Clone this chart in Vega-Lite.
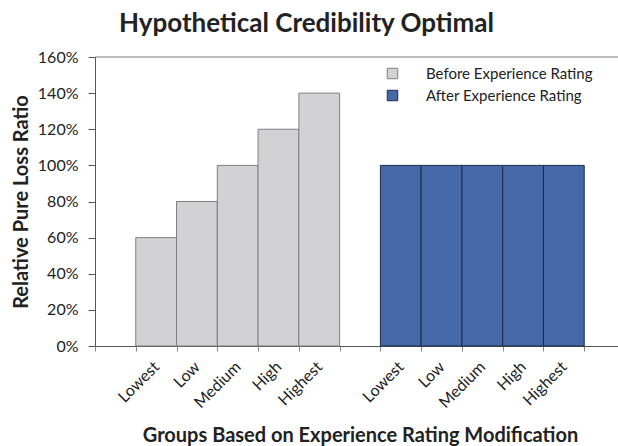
{
  "$schema": "https://vega.github.io/schema/vega-lite/v6.json",
  "autosize": {"type": "none"},
  "padding": {"left": 95, "top": 57, "right": 0, "bottom": 100},
  "width": 523,
  "height": 289,
  "background": "white",
  "config": {
    "font": "Lato",
    "view": {"stroke": null}
  },
  "title": {
    "text": "Hypothetical Credibility Optimal",
    "fontSize": 26,
    "fontWeight": "bold",
    "color": "#222222",
    "anchor": "middle",
    "frame": "group",
    "dx": -50,
    "offset": 12
  },
  "layer": [
    {
      "data": {
        "values": [
          {"cat": "Lowest|b", "group": "Before Experience Rating", "value": 0.6},
          {"cat": "Low|b", "group": "Before Experience Rating", "value": 0.8},
          {"cat": "Medium|b", "group": "Before Experience Rating", "value": 1.0},
          {"cat": "High|b", "group": "Before Experience Rating", "value": 1.2},
          {"cat": "Highest|b", "group": "Before Experience Rating", "value": 1.4},
          {"cat": "Lowest|a", "group": "After Experience Rating", "value": 1.0},
          {"cat": "Low|a", "group": "After Experience Rating", "value": 1.0},
          {"cat": "Medium|a", "group": "After Experience Rating", "value": 1.0},
          {"cat": "High|a", "group": "After Experience Rating", "value": 1.0},
          {"cat": "Highest|a", "group": "After Experience Rating", "value": 1.0}
        ]
      },
      "mark": {"type": "bar", "strokeWidth": 1},
      "encoding": {
        "x": {
          "field": "cat",
          "type": "nominal",
          "sort": null,
          "scale": {
            "domain": ["|s", "Lowest|b", "Low|b", "Medium|b", "High|b", "Highest|b", "|g", "Lowest|a", "Low|a", "Medium|a", "High|a", "Highest|a", "|e"],
            "range": [0, 530],
            "paddingInner": 0,
            "paddingOuter": 0
          },
          "axis": {
            "title": "Groups Based on Experience Rating Modification",
            "titleFontSize": 20,
            "titleFontWeight": "bold",
            "titleColor": "#222222",
            "titlePadding": 15,
            "labelExpr": "datum.value ? split(datum.value, '|')[0] : ''",
            "labelAngle": -45,
            "labelAlign": "right",
            "labelBaseline": "middle",
            "labelFontSize": 16,
            "labelColor": "#222222",
            "labelPadding": 13,
            "tickBand": "extent",
            "tickSize": 5,
            "tickColor": "#888888",
            "domainColor": "#555555",
            "labelOverlap": false
          }
        },
        "y": {
          "field": "value",
          "type": "quantitative",
          "scale": {"domain": [0, 1.6], "nice": false},
          "axis": {
            "title": "Relative Pure Loss Ratio",
            "titleFontSize": 20,
            "titleFontWeight": "bold",
            "titleColor": "#222222",
            "titlePadding": 6,
            "values": [0, 0.2, 0.4, 0.6, 0.8, 1.0, 1.2, 1.4, 1.6],
            "format": ".0%",
            "labelFontSize": 16,
            "labelColor": "#222222",
            "labelPadding": 10,
            "labelOverlap": false,
            "labelFlush": false,
            "tickSize": 7,
            "tickColor": "#555555",
            "domainColor": "#555555",
            "grid": false
          }
        },
        "color": {
          "field": "group",
          "type": "nominal",
          "scale": {
            "domain": ["Before Experience Rating", "After Experience Rating"],
            "range": ["#D2D2D4", "#4569A6"]
          },
          "legend": {
            "title": null,
            "orient": "none",
            "legendX": 290,
            "legendY": 9,
            "padding": 0,
            "symbolType": "square",
            "symbolSize": 110,
            "symbolStrokeWidth": 1,
            "labelFontSize": 15,
            "labelLimit": 400,
            "labelColor": "#222222",
            "labelOffset": 26,
            "rowPadding": 6
          }
        },
        "stroke": {
          "field": "group",
          "type": "nominal",
          "scale": {
            "domain": ["Before Experience Rating", "After Experience Rating"],
            "range": ["#7F7F7F", "#1E2B45"]
          },
          "legend": null
        }
      }
    },
    {
      "data": {"values": [{"top": 1.6}]},
      "mark": {"type": "rule", "color": "#777777", "strokeWidth": 1},
      "encoding": {
        "y": {
          "field": "top",
          "type": "quantitative",
          "axis": {
            "title": "Relative Pure Loss Ratio",
            "titleFontSize": 20,
            "titleFontWeight": "bold",
            "titleColor": "#222222",
            "titlePadding": 6,
            "values": [0, 0.2, 0.4, 0.6, 0.8, 1.0, 1.2, 1.4, 1.6],
            "format": ".0%",
            "labelFontSize": 16,
            "labelColor": "#222222",
            "labelPadding": 10,
            "labelOverlap": false,
            "labelFlush": false,
            "tickSize": 7,
            "tickColor": "#555555",
            "domainColor": "#555555",
            "grid": false
          }
        }
      }
    }
  ]
}
